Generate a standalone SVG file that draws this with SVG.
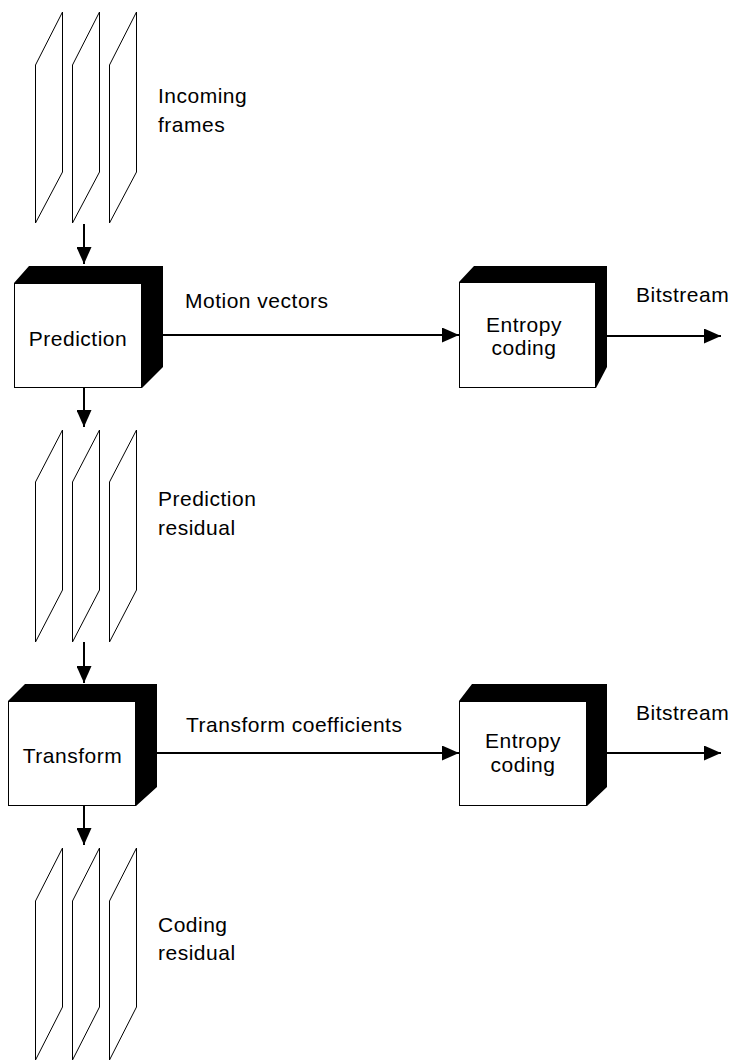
<svg xmlns="http://www.w3.org/2000/svg" width="733" height="1061" viewBox="0 0 733 1061">
<defs>
<style>
text{font-family:"Liberation Sans",Arial,sans-serif;font-size:21px;letter-spacing:0.5px;fill:#000}
.frame{fill:#fff;stroke:#000;stroke-width:1}
.ext{fill:#000}
.face{fill:#fff;stroke:#000;stroke-width:1}
.conn{stroke:#000;stroke-width:2;fill:none;marker-end:url(#ah)}
.mid{text-anchor:middle}
</style>
<marker id="ah" markerUnits="userSpaceOnUse" markerWidth="17" markerHeight="15" refX="17" refY="7.5" orient="auto">
<path d="M0,0 L17,7.5 L0,15 z" fill="#000"/>
</marker>
</defs>
<rect width="733" height="1061" fill="#fff"/>

<g id="incoming-frames">
<polygon class="frame" points="35.5,223 35.5,65 62.5,12 62.5,172"/>
<polygon class="frame" points="72.5,223 72.5,65 99.5,12 99.5,172"/>
<polygon class="frame" points="109.5,223 109.5,65 136.5,12 136.5,172"/>
<text x="158" y="103">Incoming</text>
<text x="158" y="132">frames</text>
</g>

<g id="prediction">
<polygon class="ext" points="14,283 29,266 163,266 163,367 142,388 142,283"/>
<rect class="face" x="14.5" y="283.5" width="127" height="104"/>
<text class="mid" x="78" y="346">Prediction</text>
</g>

<g id="entropy1">
<polygon class="ext" points="459,282 474,266 607,266 607,367 596,388 596,282"/>
<rect class="face" x="459.5" y="282.5" width="136" height="105"/>
<text class="mid" x="524" y="332">Entropy</text>
<text class="mid" x="524" y="355">coding</text>
</g>

<g id="prediction-residual">
<polygon class="frame" points="35.5,642 35.5,482 62.5,430 62.5,590"/>
<polygon class="frame" points="72.5,642 72.5,482 99.5,430 99.5,590"/>
<polygon class="frame" points="109.5,642 109.5,482 136.5,430 136.5,590"/>
<text x="158" y="506">Prediction</text>
<text x="158" y="535">residual</text>
</g>

<g id="transform">
<polygon class="ext" points="8,701 25,684 157,684 157,787 136,806 136,701"/>
<rect class="face" x="8.5" y="701.5" width="127" height="104"/>
<text class="mid" x="72.5" y="763">Transform</text>
</g>

<g id="entropy2">
<polygon class="ext" points="459,701 472,684 607,684 607,787 587,806 587,701"/>
<rect class="face" x="459.5" y="701.5" width="127" height="104"/>
<text class="mid" x="523" y="748">Entropy</text>
<text class="mid" x="523" y="772">coding</text>
</g>

<g id="coding-residual">
<polygon class="frame" points="35.5,1060 35.5,901 62.5,848 62.5,1007"/>
<polygon class="frame" points="72.5,1060 72.5,901 99.5,848 99.5,1007"/>
<polygon class="frame" points="109.5,1060 109.5,901 136.5,848 136.5,1007"/>
<text x="158" y="932">Coding</text>
<text x="158" y="960">residual</text>
</g>

<g id="labels">
<text x="185" y="308">Motion vectors</text>
<text x="636" y="302">Bitstream</text>
<text x="186" y="732">Transform coefficients</text>
<text x="636" y="720">Bitstream</text>
</g>

<g id="connectors">
<line class="conn" x1="84" y1="224" x2="84" y2="264"/>
<line class="conn" x1="84" y1="388" x2="84" y2="427"/>
<line class="conn" x1="163" y1="335" x2="459" y2="335"/>
<line class="conn" x1="607" y1="336" x2="721" y2="336"/>
<line class="conn" x1="84" y1="642" x2="84" y2="683"/>
<line class="conn" x1="157" y1="753" x2="459" y2="753"/>
<line class="conn" x1="607" y1="753" x2="721" y2="753"/>
<line class="conn" x1="84" y1="806" x2="84" y2="845"/>
</g>
</svg>
